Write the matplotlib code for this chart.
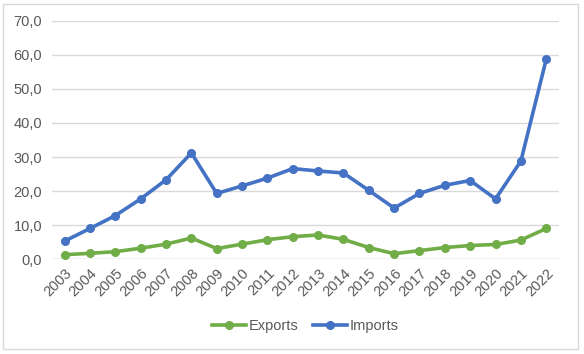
import matplotlib
matplotlib.use('Agg')
import matplotlib.pyplot as plt
from matplotlib.patches import Rectangle
from matplotlib.ticker import FuncFormatter

years = [str(y) for y in range(2003, 2023)]
exports = [1.3, 1.7, 2.2, 3.2, 4.4, 6.2, 3.1, 4.4, 5.7, 6.6,
           7.1, 5.8, 3.4, 1.6, 2.5, 3.4, 4.0, 4.3, 5.6, 9.0]
imports = [5.3, 9.0, 12.8, 17.7, 23.3, 31.2, 19.3, 21.5, 23.8, 26.6,
           25.9, 25.3, 20.2, 15.0, 19.3, 21.7, 23.1, 17.7, 28.8, 58.7]
y_ticks = [0, 10, 20, 30, 40, 50, 60, 70]

plt.rcParams['font.family'] = ['Liberation Sans', 'DejaVu Sans']

fig = plt.figure(figsize=(5.84, 3.54), dpi=100)
ax = fig.add_axes([0.089, 0.268, 0.868, 0.673])

x = list(range(len(years)))
ax.plot(x, exports, color='#70AD47', lw=2.6, marker='o', ms=5.5, label='Exports')
ax.plot(x, imports, color='#4472C4', lw=2.6, marker='o', ms=5.5, label='Imports')

ax.set_xlim(-0.5, len(years) - 0.5)
ax.set_ylim(0, 70)
ax.set_yticks(y_ticks)
ax.yaxis.set_major_formatter(FuncFormatter(lambda v, p: f'{v:.1f}'.replace('.', ',')))
ax.set_xticks(x)
ax.set_xticklabels(years, rotation=45, ha='right', rotation_mode='anchor')
ax.tick_params(length=0, labelsize=10.5, colors='#595959', pad=7)
ax.tick_params(axis='x', pad=5)
ax.grid(axis='y', color='#D9D9D9', lw=1)
ax.set_axisbelow(True)
for s in ax.spines.values():
    s.set_visible(False)
ax.axhline(0, color='#D9D9D9', lw=1, zorder=0)

leg = ax.legend(loc='center', bbox_to_anchor=(0.5, -0.28), ncol=2, frameon=False,
                fontsize=10.5, handlelength=2.3, columnspacing=1.0, handletextpad=0.2)
for t in leg.get_texts():
    t.set_color('#595959')

fig.patches.append(Rectangle((3 / 584, 1 - 349 / 354), 575 / 584, 345 / 354,
                             transform=fig.transFigure, fill=False,
                             edgecolor='#D9D9D9', lw=1))

fig.savefig('out.png', dpi=100)
